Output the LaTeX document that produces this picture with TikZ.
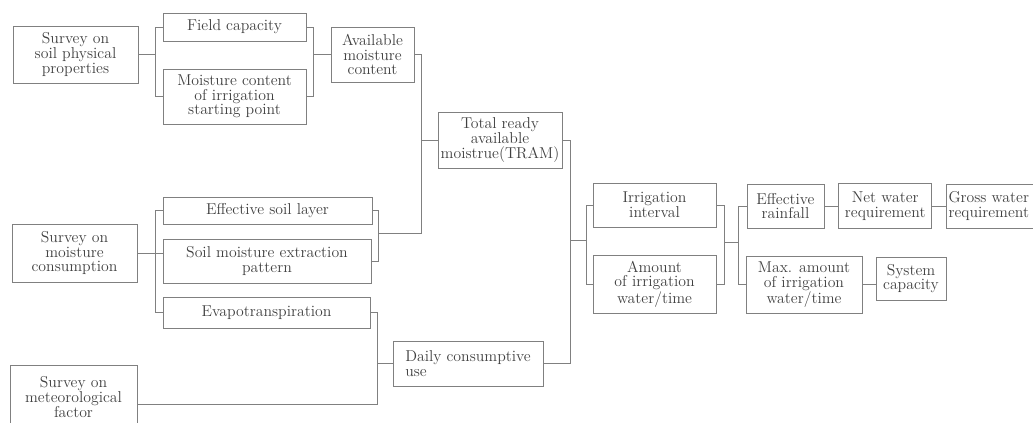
\documentclass[tikz,border=0pt]{standalone}
\usetikzlibrary{positioning}
\begin{document}
\begin{tikzpicture}[x=0.025cm, y=-0.025cm,
  box/.style={draw=black!50, line width=0.5pt, text=black!75, align=center, inner sep=1pt,
    font=\fontsize{11.2}{10.4}\selectfont},
  sz/.style 2 args={minimum width=#1*0.025cm, minimum height=#2*0.025cm},
  link/.style={draw=black!50, line width=0.5pt}]
\useasboundingbox (0,0) rectangle (1033,422);
\node[box, sz={125}{57}] (soil) at (75.5,54.5) {Survey on\\soil physical\\properties};
\node[box, sz={143}{28}] (fc) at (234.5,27) {Field capacity};
\node[box, sz={143}{55}] (mc) at (234.5,96.5) {Moisture content\\of irrigation\\starting point};
\node[box, sz={83}{55}] (amc) at (372.5,54.5) {Available\\moisture\\content};
\node[box, sz={124}{56}] (tram) at (500,140) {Total ready\\available\\moistrue(TRAM)};
\node[box, sz={125}{58}] (cons) at (74.5,253) {Survey on\\moisture\\consumption};
\node[box, sz={209}{27}] (esl) at (267.5,210.5) {Effective soil layer};
\node[box, sz={208}{44}] (smep) at (267,261) {Soil moisture extraction\\pattern};
\node[box, sz={207}{31}] (evap) at (266.5,312.5) {Evapotranspiration};
\node[box, sz={127}{64}] (met) at (73.5,397) {Survey on\\meteorological\\factor};
\node[box, sz={150}{45}, align=left] (daily) at (468,363.5) {Daily consumptive\\use};
\node[box, sz={123}{44}] (irr) at (654.5,205) {Irrigation\\interval};
\node[box, sz={123}{58}] (amt) at (654.5,284) {Amount\\of irrigation\\water/time};
\node[box, sz={77}{44}] (erf) at (785.5,206) {Effective\\rainfall};
\node[box, sz={93}{45}, right=0.35cm of erf] (net) {Net water\\requirement};
\node[box, minimum height=1.1cm, text width=2.15cm, align=left, inner xsep=1.5pt,
  right=0.35cm of net] (gross) {Gross water\\requirement};
\node[box, sz={116}{57}] (max) at (804,284.5) {Max. amount\\of irrigation\\water/time};
\node[box, sz={70}{43}] (sys) at (911,278.5) {System\\capacity};
\coordinate (jA) at (155,0);
\coordinate (jB) at (313,0);
\coordinate (jC) at (378,233);
\coordinate (jD) at (421,0);
\coordinate (jF) at (570,0);
\coordinate (jG) at (586,240);
\coordinate (jH) at (724,242);
\coordinate (jI) at (738,0);
\coordinate (jJ) at (377,0);
\coordinate (jK) at (0,404);
\draw[link] (soil.east) -- (soil.east -| jA);
\draw[link] (fc.west) -- (fc.west -| jA) -- (mc.west -| jA) -- (mc.west);
\draw[link] (fc.east) -- (fc.east -| jB) -- (mc.east -| jB) -- (mc.east);
\draw[link] (amc.west -| jB) -- (amc.west);
\draw[link] (amc.east) -- (amc.east -| jD) -- (jC -| jD) -- (jC);
\draw[link] (esl.east) -- (esl.east -| jC) -- (smep.east -| jC) -- (smep.east);
\draw[link] (tram.west -| jD) -- (tram.west);
\draw[link] (cons.east) -- (cons.east -| smep.west);
\draw[link] (esl.west) -- (esl.west -| jA) -- (evap.west -| jA) -- (evap.west);
\draw[link] (evap.east) -- (evap.east -| jJ) -- (jK -| jJ) -- (met.east |- jK);
\draw[link] (daily.west -| jJ) -- (daily.west);
\draw[link] (tram.east) -- (tram.east -| jF) -- (daily.east -| jF) -- (daily.east);
\draw[link] (jG -| jF) -- (jG);
\draw[link] (irr.west) -- (irr.west -| jG) -- (amt.west -| jG) -- (amt.west);
\draw[link] (irr.east) -- (irr.east -| jH) -- (amt.east -| jH) -- (amt.east);
\draw[link] (jH) -- (jH -| jI);
\draw[link] (erf.west) -- (erf.west -| jI) -- (max.west -| jI) -- (max.west);
\draw[link] (erf.east) -- (net.west);
\draw[link] (net.east) -- (gross.west);
\draw[link] (max.east) -- (max.east -| sys.west);
\end{tikzpicture}
\end{document}
